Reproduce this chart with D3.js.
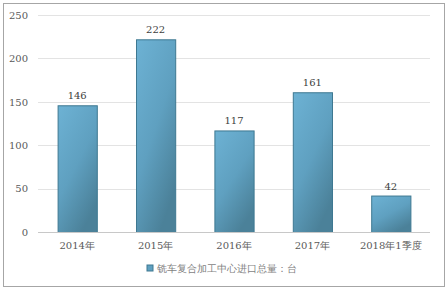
<!DOCTYPE html>
<html>
<head>
<meta charset="utf-8">
<script src="https://d3js.org/d3.v7.min.js"></script>
<style>
  body { margin: 0; background: #fff; }
  text { font-family: "DejaVu Serif", "Liberation Serif", serif; }
</style>
</head>
<body>
<svg id="chart" width="448" height="290"></svg>
<script>
// data
const categories = ["2014年", "2015年", "2016年", "2017年", "2018年1季度"];
const values = [146, 222, 117, 161, 42];
const yTicks = [0, 50, 100, 150, 200, 250];
const seriesName = "铣车复合加工中心进口总量：台";

const width = 448, height = 290;
const margin = { top: 15, right: 18, bottom: 58, left: 38 };

const svg = d3.select("#chart");

// outer frame
svg.append("rect")
  .attr("x", 3.5).attr("y", 3.5)
  .attr("width", width - 7).attr("height", height - 7)
  .attr("fill", "#fff").attr("stroke", "#a6a6a6");

const defs = svg.append("defs");
const grad = defs.append("linearGradient")
  .attr("id", "barGrad")
  .attr("x1", "0").attr("y1", "0").attr("x2", "0.6").attr("y2", "1");
grad.append("stop").attr("offset", "0%").attr("stop-color", "#6db2d4");
grad.append("stop").attr("offset", "55%").attr("stop-color", "#5fa0c0");
grad.append("stop").attr("offset", "100%").attr("stop-color", "#4b8199");

const x = d3.scaleBand()
  .domain(categories)
  .range([margin.left, width - margin.right])
  .paddingInner(0.5).paddingOuter(0.25);

const y = d3.scaleLinear()
  .domain([0, 250])
  .range([height - margin.bottom, margin.top]);

// gridlines
svg.append("g")
  .selectAll("line")
  .data(yTicks.filter(d => d > 0))
  .join("line")
  .attr("x1", margin.left).attr("x2", width - margin.right)
  .attr("y1", d => Math.round(y(d)) + 0.5).attr("y2", d => Math.round(y(d)) + 0.5)
  .attr("stroke", "#e3e3e3");

// y axis labels
const yAxis = d3.axisLeft(y).tickValues(yTicks).tickSize(0).tickPadding(10);
svg.append("g")
  .attr("transform", `translate(${margin.left},0)`)
  .call(yAxis)
  .call(g => g.select(".domain").remove())
  .call(g => g.selectAll("text").attr("fill", "#595959").attr("font-size", 10)
    .attr("font-family", "DejaVu Serif, serif"));

// bars
svg.append("g")
  .selectAll("rect")
  .data(values)
  .join("rect")
  .attr("x", (d, i) => x(categories[i]) + 0.5)
  .attr("y", d => y(d) + 0.5)
  .attr("width", x.bandwidth())
  .attr("height", d => y(0) - y(d))
  .attr("fill", "url(#barGrad)")
  .attr("stroke", "#3e7891")
  .attr("stroke-width", 1);

// baseline axis
const xAxis = d3.axisBottom(x).tickSize(0).tickPadding(9);
svg.append("g")
  .attr("transform", `translate(0,${Math.round(y(0)) + 0.5})`)
  .call(xAxis)
  .call(g => g.select(".domain").attr("stroke", "#c8c8c8").attr("d", `M${margin.left},0H${width - margin.right}`))
  .call(g => g.selectAll("text").attr("fill", "#595959").attr("font-size", 10)
    .attr("font-family", "DejaVu Serif, serif"));

// value labels
svg.append("g")
  .selectAll("text")
  .data(values)
  .join("text")
  .attr("x", (d, i) => x(categories[i]) + x.bandwidth() / 2)
  .attr("y", d => y(d) - 6)
  .attr("text-anchor", "middle")
  .attr("font-size", 10)
  .attr("fill", "#404040")
  .text(d => d);

// legend
const legend = svg.append("g").attr("transform", "translate(147,265)");
legend.append("rect")
  .attr("width", 6).attr("height", 6)
  .attr("fill", "#5fa0c0").attr("stroke", "#3e7891");
legend.append("text")
  .attr("x", 10).attr("y", 6.5)
  .attr("font-size", 10)
  .attr("fill", "#7f7f7f")
  .attr("font-family", "Noto Sans CJK SC, sans-serif")
  .text(seriesName);
</script>
</body>
</html>
